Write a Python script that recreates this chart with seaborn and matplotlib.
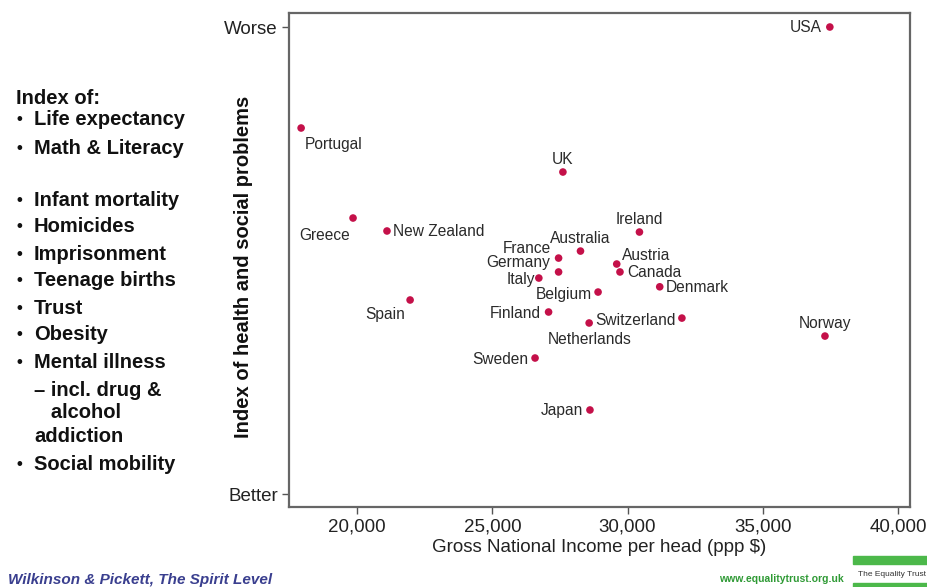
import matplotlib
matplotlib.use("Agg")
import matplotlib.pyplot as plt
import seaborn as sns
import pandas as pd
from matplotlib.patches import Rectangle

# Country data: gross national income per head (ppp $) and index of health & social problems
countries = ["USA", "Portugal", "UK", "Greece", "New Zealand", "Ireland", "Australia",
             "France", "Germany", "Italy", "Austria", "Canada", "Denmark", "Belgium",
             "Spain", "Finland", "Switzerland", "Netherlands", "Norway", "Sweden", "Japan"]
income = [37480, 17930, 27610, 19850, 21105, 30440, 28260,
          27450, 27450, 26720, 29600, 29720, 31190, 28910,
          21960, 27080, 32010, 28580, 37300, 26580, 28610]
index_score = [2.50, 1.635, 1.258, 0.864, 0.753, 0.744, 0.581,
               0.521, 0.402, 0.350, 0.470, 0.402, 0.275, 0.230,
               0.162, 0.059, 0.007, -0.035, -0.147, -0.335, -0.780]

# label offsets (pixels) and alignment for each country
label_pos = {
    "USA": (-8, 0, "right"),
    "Portugal": (4, -16, "left"),
    "UK": (0, 13, "center"),
    "Greece": (-3, -17, "right"),
    "New Zealand": (6, -1, "left"),
    "Ireland": (0, 13, "center"),
    "Australia": (0, 13, "center"),
    "France": (-8, 10, "right"),
    "Germany": (-8, 9, "right"),
    "Italy": (-4, -1, "right"),
    "Austria": (5, 9, "left"),
    "Canada": (7, -1, "left"),
    "Denmark": (6, -1, "left"),
    "Belgium": (-6, -2, "right"),
    "Spain": (-5, -15, "right"),
    "Finland": (-8, -1, "right"),
    "Switzerland": (-6, -2, "right"),
    "Netherlands": (0, -17, "center"),
    "Norway": (0, 13, "center"),
    "Sweden": (-7, -1, "right"),
    "Japan": (-7, -1, "right"),
}

x_ticks = [20000, 25000, 30000, 35000, 40000]
x_tick_labels = ["20,000", "25,000", "30,000", "35,000", "40,000"]
y_ticks = [-1.5, 2.5]
y_tick_labels = ["Better", "Worse"]

index_items = [
    ("\u2022", "Life expectancy"),
    ("\u2022", "Math & Literacy"),
    ("\u2022", "Infant mortality"),
    ("\u2022", "Homicides"),
    ("\u2022", "Imprisonment"),
    ("\u2022", "Teenage births"),
    ("\u2022", "Trust"),
    ("\u2022", "Obesity"),
    ("\u2022", "Mental illness"),
    ("", "\u2013 incl. drug &"),
    ("", "   alcohol"),
    ("", "addiction"),
    ("\u2022", "Social mobility"),
]
item_y = [120, 148, 200, 227, 254, 281, 308, 335, 363, 390, 413, 437, 464]

df = pd.DataFrame({"country": countries, "income": income, "index": index_score})

sns.set_theme(style="white")
plt.rcParams["font.family"] = ["Liberation Sans", "DejaVu Sans"]

W, H = 928, 587
fig = plt.figure(figsize=(W / 100, H / 100), dpi=100)
ax = fig.add_axes([289 / W, 1 - 507 / H, (910 - 289) / W, (507 - 13) / H])

sns.scatterplot(data=df, x="income", y="index", ax=ax, color="#C41049",
                s=30, edgecolor="none", zorder=3)

for c, xv, yv in zip(countries, income, index_score):
    dx, dy, ha = label_pos[c]
    ax.annotate(c, (xv, yv), xytext=(dx, dy), textcoords="offset pixels",
                ha=ha, va="center", fontsize=11.2, color="#2a2a2a")

ax.set_xlim(17482, 40444)
ax.set_ylim(-1.611, 2.62)
ax.set_xticks(x_ticks)
ax.set_xticklabels(x_tick_labels, fontsize=13.5, color="#222222")
ax.set_yticks(y_ticks)
ax.set_yticklabels(y_tick_labels, fontsize=13.5, color="#222222")
ax.tick_params(axis="both", which="both", direction="out", length=5, width=1,
               color="#555555", bottom=True, left=True, pad=3)
ax.set_xlabel("Gross National Income per head (ppp $)", fontsize=13.5, color="#222222",
              labelpad=3)
ax.set_ylabel("Index of health and social problems", fontsize=14.5, fontweight="bold",
              color="#111111")
ax.yaxis.set_label_coords((253 - 289) / 621, (507 - 267) / 494)
for sp in ax.spines.values():
    sp.set_color("#666666")
    sp.set_linewidth(1.6)

# Left-hand list of index components
fig.text(16 / W, 1 - 98 / H, "Index of:", fontsize=14.5, fontweight="bold",
         color="#111111", va="center", ha="left")
for (b, t), yy in zip(index_items, item_y):
    if b:
        fig.text(17 / W, 1 - yy / H, b, fontsize=12, fontweight="bold",
                 color="#111111", va="center", ha="left")
    fig.text(34 / W, 1 - yy / H, t, fontsize=14.5, fontweight="bold",
             color="#111111", va="center", ha="left")

# Footer
fig.text(8 / W, 1 - 580 / H, "Wilkinson & Pickett, The Spirit Level", fontsize=11,
         fontweight="bold", fontstyle="italic", color="#3a3f8f", va="center", ha="left")
fig.text(844 / W, 1 - 579 / H, "www.equalitytrust.org.uk", fontsize=7.5,
         fontweight="bold", color="#2f9a35", va="center", ha="right")
fig.patches.append(Rectangle((853 / W, 1 - 564 / H), 75 / W, 8 / H,
                             transform=fig.transFigure, color="#4cb84a", zorder=0))
fig.patches.append(Rectangle((853 / W, 0), 75 / W, 4 / H,
                             transform=fig.transFigure, color="#4cb84a", zorder=0))
fig.text(892 / W, 1 - 575 / H, "The Equality Trust", fontsize=6, color="#333333",
         va="center", ha="center")

fig.savefig("out.png", dpi=100)
